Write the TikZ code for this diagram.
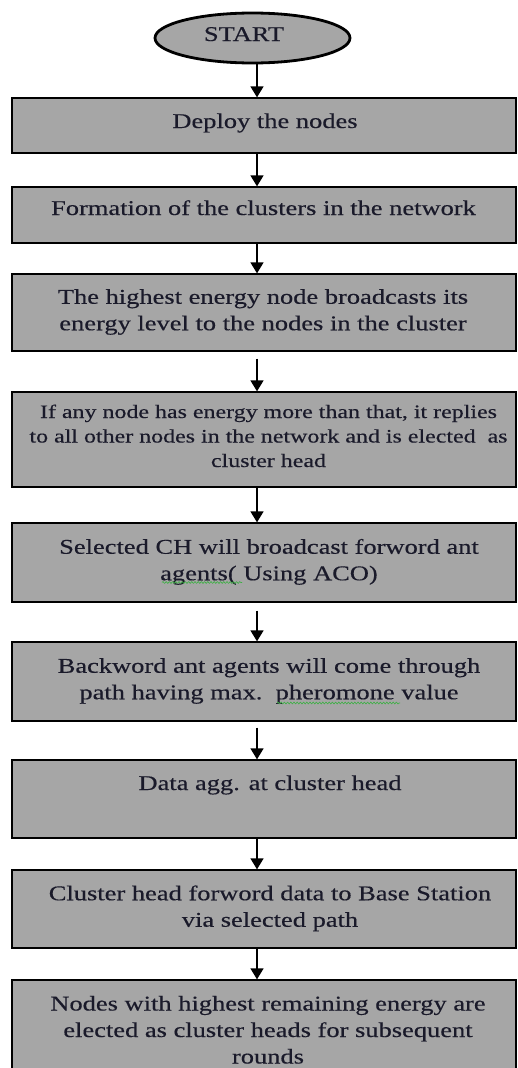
\documentclass[tikz,border=0pt]{standalone}
\usepackage{fontspec}
\setmainfont{Liberation Serif}[FakeStretch=1.26,FakeBold=0.4]
\usetikzlibrary{arrows.meta,shapes.geometric,calc,decorations.pathmorphing}
\definecolor{boxgray}{HTML}{A6A6A6}
\definecolor{wavegreen}{HTML}{3CB043}
\definecolor{inkdark}{HTML}{1A1A2A}
\begin{document}
\begin{tikzpicture}[x=1pt,y=-1pt,
  stepbox/.style={draw=black, line width=1.3pt, fill=boxgray, rectangle, minimum width=504pt, inner sep=0pt},
  startshape/.style={draw=black, line width=2.8pt, fill=boxgray, ellipse, minimum width=195pt, minimum height=50pt, inner sep=0pt},
  txt/.style={align=center, inner sep=0pt, text=inkdark, font=\fontsize{21}{26.5}\selectfont},
  smalltxt/.style={align=center, inner sep=0pt, text=inkdark, font=\fontsize{19}{24.5}\selectfont},
  arr/.style={line width=1.5pt, -{Triangle[width=13pt,length=11pt]}},
  squiggle/.style={wavegreen, line width=0.6pt, decorate, decoration={snake, amplitude=0.9pt, segment length=3.2pt}}
]
\useasboundingbox (0,0) rectangle (518,1068);
\clip (0,0) rectangle (518,1068);

\coordinate (ax) at (257,0);

% start
\node[startshape] (start) at (252.5,38) {};
\node[txt] (tstart) at (244,35.7) {\strut START};

% boxes
\node[stepbox, minimum height=55pt] (b1) at (264,125.5) {};
\node[stepbox, minimum height=56pt] (b2) at (264,215) {};
\node[stepbox, minimum height=77pt] (b3) at (264,312.5) {};
\node[stepbox, minimum height=95pt] (b4) at (264,439.5) {};
\node[stepbox, minimum height=79pt] (b5) at (264,562.5) {};
\node[stepbox, minimum height=79pt] (b6) at (264,681.5) {};
\node[stepbox, minimum height=78pt] (b7) at (264,799) {};
\node[stepbox, minimum height=78pt] (b8) at (264,909) {};
\node[stepbox, minimum height=130pt] (b9) at (264,1045) {};

% texts
\node[txt] (t1) at (265,122.7) {\strut Deploy the nodes};
\node[txt] (t2) at (263.5,209.7) {\strut Formation of the clusters in the network};
\node[txt] (t3) at (263,311.7) {\strut The highest energy node broadcasts its\\\strut energy level to the nodes in the cluster};
\node[smalltxt] (t4) at (268.5,437.6) {\strut If any node has energy more than that, it replies\\\strut to all other nodes in the network and is elected\ \ as\\\strut cluster head};
\node[txt] (t5) at (269,561.7) {\strut Selected CH will broadcast forword ant\\\strut agents( Using ACO)};
\node[txt] (t6) at (269,680.7) {\strut Backword ant agents will come through\\\strut path having max.\ \ pheromone value};
\node[txt] (t7) at (270,784.7) {\strut Data agg. at cluster head};
\node[txt] (t8) at (270,908.2) {\strut Cluster head forword data to Base Station\\\strut via selected path};
\node[txt] (t9) at (268,1031.7) {\strut Nodes with highest remaining energy are\\\strut elected as cluster heads for subsequent\\\strut rounds};

% spell-check squiggles
\draw[squiggle] (162,582.5) -- (242,582.5);
\draw[squiggle] (277,703) -- (400,703);

% arrows
\draw[arr] (start.south -| ax) -- (b1.north -| ax);
\draw[arr] (b1.south -| ax) -- (b2.north -| ax);
\draw[arr] (b2.south -| ax) -- (b3.north -| ax);
\draw[arr] ($(b3.south -| ax)+(0,7)$) -- (b4.north -| ax);
\draw[arr] (b4.south -| ax) -- (b5.north -| ax);
\draw[arr] ($(b5.south -| ax)+(0,8)$) -- (b6.north -| ax);
\draw[arr] ($(b6.south -| ax)+(0,6)$) -- (b7.north -| ax);
\draw[arr] (b7.south -| ax) -- (b8.north -| ax);
\draw[arr] (b8.south -| ax) -- (b9.north -| ax);
\end{tikzpicture}
\end{document}
